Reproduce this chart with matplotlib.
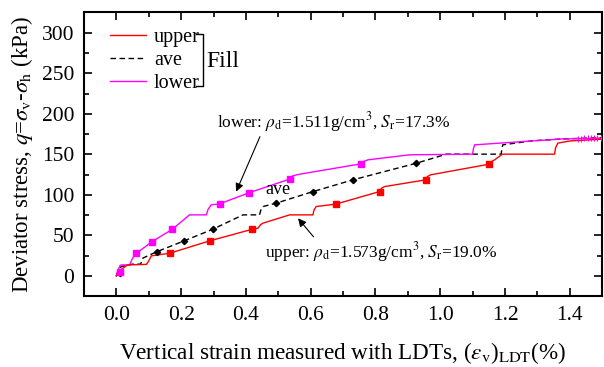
import matplotlib
matplotlib.use("Agg")
import matplotlib.pyplot as plt
from matplotlib.ticker import MultipleLocator

plt.rcParams['font.family'] = ['Liberation Serif', 'DejaVu Serif']
plt.rcParams['mathtext.fontset'] = 'stix'

# ---- data ----
upper_x = [0, 0.013, 0.035, 0.093, 0.100, 0.108, 0.165, 0.288, 0.420, 0.437, 0.445, 0.452,
           0.535, 0.607, 0.610, 0.617, 0.677, 0.813, 0.818, 0.828, 0.955, 0.960, 0.970,
           1.152, 1.158, 1.168, 1.192, 1.353, 1.356, 1.363, 1.400, 1.500]
upper_y = [0, 7.4, 13.6, 14.2, 18.5, 24.7, 28.0, 43.2, 57.6, 58.8, 63.0, 65.0,
           75.3, 75.3, 81.0, 85.6, 88.5, 104.1, 108.0, 110.2, 118.5, 122.5, 124.7,
           137.9, 141.0, 143.2, 150.2, 150.2, 158.0, 163.8, 166.5, 168.7]
upper_loop_x = [0.165, 0.288, 0.420, 0.677, 0.813, 0.955, 1.152]
upper_loop_y = [28.0, 43.2, 57.6, 88.5, 104.1, 118.5, 137.9]

ave_x = [0, 0.005, 0.015, 0.050, 0.075, 0.078, 0.082, 0.126, 0.209, 0.298, 0.391, 0.442,
         0.446, 0.453, 0.494, 0.607, 0.730, 0.926, 1.019, 1.188, 1.190, 1.193, 1.285,
         1.378, 1.500]
ave_y = [0, 6.0, 11.5, 14.5, 14.5, 18.0, 22.0, 30.0, 43.2, 57.6, 75.3, 75.3,
         81.0, 85.6, 89.8, 104.0, 118.5, 139.0, 150.2, 150.2, 156.0, 161.7, 166.7,
         169.0, 170.5]
ave_loop_x = [0.010, 0.126, 0.209, 0.298, 0.494, 0.607, 0.730, 0.926]
ave_loop_y = [4.0, 30.0, 43.2, 57.6, 89.8, 104.0, 118.5, 139.0]

lower_x = [0, 0.005, 0.012, 0.020, 0.041, 0.048, 0.056, 0.062, 0.111, 0.173, 0.226, 0.278,
           0.283, 0.293, 0.319, 0.411, 0.535, 0.545, 0.566, 0.756, 0.765, 0.777, 0.905,
           1.100, 1.102, 1.106, 1.183, 1.378, 1.495]
lower_y = [0, 7.0, 13.2, 13.6, 13.6, 20.0, 26.0, 28.0, 42.4, 57.6, 75.3, 75.3,
           82.0, 87.7, 88.9, 102.8, 119.4, 123.5, 125.5, 138.3, 141.5, 143.2, 149.4,
           150.2, 156.0, 161.7, 163.8, 169.0, 169.9]
lower_loop_x = [0.010, 0.062, 0.111, 0.173, 0.319, 0.411, 0.535, 0.756,
                1.425, 1.435, 1.445, 1.455, 1.465, 1.475, 1.485, 1.495]
lower_loop_y = [5.0, 28.0, 42.4, 57.6, 88.9, 102.8, 119.4, 138.3,
                169.3, 169.5, 169.6, 169.7, 169.8, 169.9, 170.0, 170.0]

series_labels = ['upper', 'ave', 'lower']

fig = plt.figure(figsize=(6.04, 3.67), dpi=100)
ax = fig.add_axes([0.139, 0.193, 0.858, 0.773])

red = '#ff0000'
mag = '#ff00ff'

ax.plot(upper_x, upper_y, color=red, lw=1.0, label=series_labels[0], zorder=3)
ax.plot(ave_x, ave_y, color='black', lw=1.0, ls=(0, (4, 2.5)), label=series_labels[1], zorder=2)
ax.plot(lower_x, lower_y, color=mag, lw=1.0, label=series_labels[2], zorder=2)

ax.plot(upper_loop_x, upper_loop_y, ls='none', marker='s', ms=4.5, color=red, mec=red, zorder=4)
ax.plot(ave_loop_x, ave_loop_y, ls='none', marker='D', ms=3.2, color='black', zorder=4)
ax.plot(lower_loop_x[:8], lower_loop_y[:8], ls='none', marker='s', ms=4.5, color=mag, mec=mag, zorder=4)
ax.plot(lower_loop_x[8:], lower_loop_y[8:], ls='none', marker='|', ms=5, mew=0.8, color=mag, zorder=4)

ax.set_xlim(-0.1, 1.5)
ax.set_ylim(-25, 325)
ax.xaxis.set_major_locator(MultipleLocator(0.2))
ax.xaxis.set_minor_locator(MultipleLocator(0.1))
ax.yaxis.set_major_locator(MultipleLocator(50))
ax.yaxis.set_minor_locator(MultipleLocator(25))
ax.set_xticks([0, 0.2, 0.4, 0.6, 0.8, 1.0, 1.2, 1.4])
ax.set_xticklabels(['0.0', '0.2', '0.4', '0.6', '0.8', '1.0', '1.2', '1.4'])
ax.tick_params(which='both', direction='in', top=True, right=True, labelsize=15.5, width=1.2)
ax.tick_params(which='major', length=6, pad=7)
ax.tick_params(which='minor', length=3.5)
for s in ax.spines.values():
    s.set_linewidth(1.5)

ax.set_xlabel(r'Vertical strain measured with LDTs, ($\varepsilon_{\rm v}$)$_{\rm LDT}$(%)',
              fontsize=16.7, labelpad=11)
ax.set_ylabel(r'Deviator stress, $q$=$\sigma_{\rm v}$-$\sigma_{\rm h}$ (kPa)', fontsize=16.5, labelpad=5)

leg = ax.legend(loc='upper left', bbox_to_anchor=(0.034, 0.975), frameon=False, fontsize=14.5,
                handlelength=1.8, handletextpad=0.4, labelspacing=0.2, borderaxespad=0)

# bracket and "Fill"
ax.plot([0.216, 0.23, 0.23, 0.216], [0.923, 0.923, 0.740, 0.740], transform=ax.transAxes,
        color='black', lw=1.0, clip_on=False)
ax.text(0.237, 0.828, 'Fill', transform=ax.transAxes, fontsize=17, va='center', ha='left')

# annotations
ax.annotate(r'lower: $\rho_{\rm d}$=1.511g/cm$^3$, $S_{\rm r}$=17.3%', xy=(0.37, 104), xytext=(0.31, 190),
            fontsize=12.5, va='center', ha='left',
            arrowprops=dict(arrowstyle='-|>', color='black', lw=0.8, mutation_scale=12,
                            shrinkA=0, shrinkB=0, relpos=(0.19, 0.0)))
ax.text(0.46, 106, 'ave', fontsize=13, va='center', ha='left')
ax.annotate(r'upper: $\rho_{\rm d}$=1.573g/cm$^3$, $S_{\rm r}$=19.0%', xy=(0.561, 71), xytext=(0.458, 30),
            fontsize=12.5, va='center', ha='left',
            arrowprops=dict(arrowstyle='-|>', color='black', lw=0.8, mutation_scale=12,
                            shrinkA=0, shrinkB=0, relpos=(0.22, 1.0)))

fig.savefig('out.png', dpi=100)
